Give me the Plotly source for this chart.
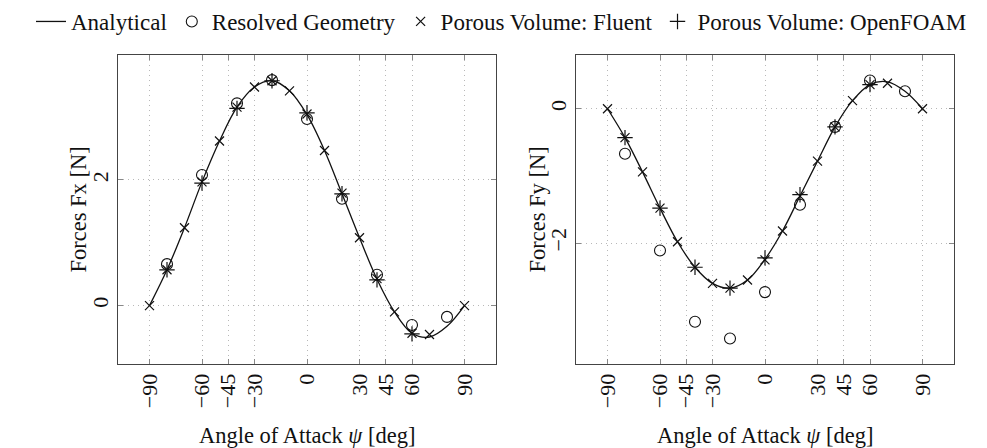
import plotly.graph_objects as go

# ---------------- data ----------------
angle_analytical = [-90, -80, -70, -60, -50, -40, -30, -20, -10, 0, 10, 20, 30, 40, 50, 60, 70, 80, 90]
fx_analytical = [0.0, 0.57, 1.24, 1.97, 2.62, 3.16, 3.48, 3.58, 3.42, 3.04, 2.47, 1.78, 1.08, 0.42, -0.10, -0.44, -0.50, -0.33, 0.0]
fy_analytical = [0.0, -0.43, -0.94, -1.48, -1.98, -2.36, -2.60, -2.67, -2.55, -2.24, -1.82, -1.30, -0.78, -0.27, 0.12, 0.36, 0.40, 0.26, 0.0]

angle_resolved = [-80, -60, -40, -20, 0, 20, 40, 60, 80]
fx_resolved = [0.66, 2.08, 3.22, 3.59, 2.97, 1.70, 0.49, -0.31, -0.18]
fy_resolved = [-0.67, -2.11, -3.17, -3.42, -2.73, -1.43, -0.27, 0.42, 0.26]

angle_fluent = [-90, -80, -70, -60, -50, -40, -30, -20, -10, 0, 10, 20, 30, 40, 50, 60, 70, 90]
fx_fluent = [0.0, 0.57, 1.24, 1.97, 2.62, 3.16, 3.48, 3.58, 3.42, 3.05, 2.47, 1.79, 1.08, 0.43, -0.10, -0.44, -0.46, 0.0]
fy_fluent = [0.0, -0.43, -0.94, -1.48, -1.98, -2.36, -2.60, -2.67, -2.55, -2.25, -1.82, -1.30, -0.78, -0.27, 0.12, 0.36, 0.38, 0.0]

angle_openfoam = [-80, -60, -40, -20, 0, 20, 40, 60]
fx_openfoam = [0.57, 1.95, 3.14, 3.58, 3.07, 1.78, 0.41, -0.45]
fy_openfoam = [-0.43, -1.48, -2.36, -2.67, -2.22, -1.28, -0.27, 0.36]

x_tick_vals = [-90, -60, -45, -30, 0, 30, 45, 60, 90]
x_tick_text = ["\u221290", "\u221260", "\u221245", "\u221230", "0", "30", "45", "60", "90"]
fx_tick_vals = [0, 2]
fx_tick_text = ["0", "2"]
fy_tick_vals = [-2, 0]
fy_tick_text = ["\u22122", "0"]

FONT = "Liberation Serif"
BLACK = "#111111"

fig = go.Figure()

def add_set(xa, ya, ana, res, flu, ofo, show):
    fig.add_trace(go.Scatter(x=angle_analytical, y=ana, mode="lines", name="Analytical",
                             line=dict(color=BLACK, width=1.3, shape="spline", smoothing=1.0),
                             xaxis=xa, yaxis=ya, showlegend=show, legendrank=1))
    fig.add_trace(go.Scatter(x=angle_resolved, y=res, mode="markers", name="Resolved Geometry",
                             marker=dict(symbol="circle-open", size=11, color=BLACK, line=dict(width=1.1)),
                             xaxis=xa, yaxis=ya, showlegend=show, legendrank=2))
    fig.add_trace(go.Scatter(x=angle_fluent, y=flu, mode="markers", name="Porous Volume: Fluent",
                             marker=dict(symbol="x-thin-open", size=9, color=BLACK, line=dict(width=1.2, color=BLACK)),
                             xaxis=xa, yaxis=ya, showlegend=show, legendrank=3))
    fig.add_trace(go.Scatter(x=angle_openfoam, y=ofo, mode="markers", name="Porous Volume: OpenFOAM",
                             marker=dict(symbol="cross-thin-open", size=11, color=BLACK, line=dict(width=1.2, color=BLACK)),
                             xaxis=xa, yaxis=ya, showlegend=show, legendrank=4))

add_set("x", "y", fx_analytical, fx_resolved, fx_fluent, fx_openfoam, True)
add_set("x2", "y2", fy_analytical, fy_resolved, fy_fluent, fy_openfoam, False)

W, H = 987, 448
ydom = [1 - 364 / H, 1 - 55 / H]

axis_common = dict(
    showline=True, linecolor="#444444", linewidth=1, mirror="ticks",
    ticks="inside", ticklen=5, tickcolor="#888888", tickwidth=1,
    showgrid=True, gridcolor="#b8b8b8", griddash="1px,4px", gridwidth=1,
    zeroline=False, automargin=False,
    tickfont=dict(family=FONT, size=22, color=BLACK),
)

fig.update_layout(
    width=W, height=H,
    margin=dict(l=0, r=0, t=0, b=0),
    paper_bgcolor="white", plot_bgcolor="white",
    font=dict(family=FONT, size=22, color=BLACK),
    xaxis=dict(domain=[118 / W, 496 / W], range=[-108, 108], tickvals=x_tick_vals, ticktext=x_tick_text,
               tickangle=-90, anchor="y", **axis_common),
    yaxis=dict(domain=ydom, range=[-0.93, 3.99], tickvals=fx_tick_vals, ticktext=fx_tick_text,
               tickangle=-90, anchor="x", **axis_common),
    xaxis2=dict(domain=[576 / W, 954 / W], range=[-108, 108], tickvals=x_tick_vals, ticktext=x_tick_text,
                tickangle=-90, anchor="y2", **axis_common),
    yaxis2=dict(domain=ydom, range=[-3.80, 0.80], tickvals=fy_tick_vals, ticktext=fy_tick_text,
                tickangle=-90, anchor="x2", **axis_common),
    legend=dict(orientation="h", x=0.5 + 8 / W, xanchor="center", y=1.0, yanchor="top",
                font=dict(family=FONT, size=23, color=BLACK), itemwidth=30,
                bgcolor="rgba(0,0,0,0)", traceorder="normal"),
    showlegend=True,
)

title_font = dict(family=FONT, size=22.5, color=BLACK)
annotations = [
    dict(text="Angle of Attack <i>\u03c8</i> [deg]", x=307 / W, y=1 - 435 / H, xref="paper", yref="paper",
         showarrow=False, xanchor="center", yanchor="middle", font=title_font),
    dict(text="Angle of Attack <i>\u03c8</i> [deg]", x=765 / W, y=1 - 435 / H, xref="paper", yref="paper",
         showarrow=False, xanchor="center", yanchor="middle", font=title_font),
    dict(text="Forces Fx [N]", x=78 / W, y=1 - 209.5 / H, xref="paper", yref="paper", textangle=-90,
         showarrow=False, xanchor="center", yanchor="middle", font=title_font),
    dict(text="Forces Fy [N]", x=537 / W, y=1 - 209.5 / H, xref="paper", yref="paper", textangle=-90,
         showarrow=False, xanchor="center", yanchor="middle", font=title_font),
]
fig.update_layout(annotations=annotations)

fig.write_html("out.html", config={"displayModeBar": False},
               post_script="document.body.style.margin='0px';document.body.style.overflow='hidden';")
